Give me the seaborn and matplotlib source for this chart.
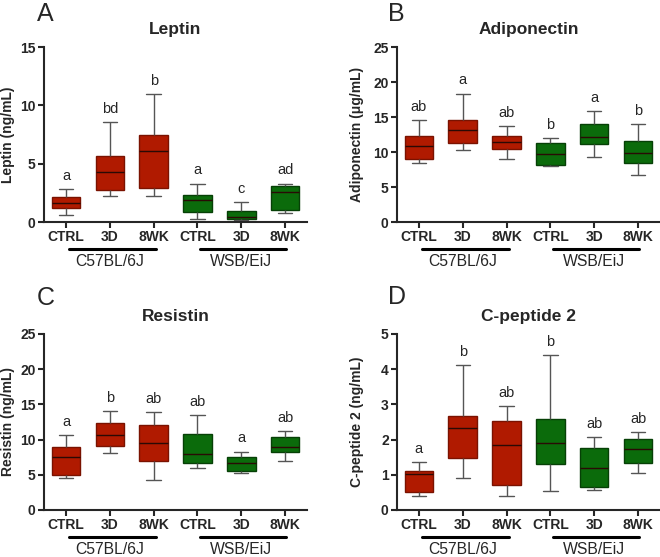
# Boxplots de adipocinas em 4 painéis
import pandas as pd
import matplotlib.pyplot as plt
import seaborn as sns

sns.set_style("ticks")
plt.rcParams['font.family'] = ['Liberation Sans', 'DejaVu Sans']

conditions = ['CTRL', '3D', '8WK']
strains = ['C57BL/6J', 'WSB/EiJ']
groups = ['C57 CTRL', 'C57 3D', 'C57 8WK', 'WSB CTRL', 'WSB 3D', 'WSB 8WK']
group_colors = ['#B01A00', '#B01A00', '#B01A00', '#0B6B0B', '#0B6B0B', '#0B6B0B']

# cinco números por grupo: min, q1, mediana, q3, max
leptin = [[0.6, 1.2, 1.65, 2.15, 2.85],
          [2.2, 2.76, 4.27, 5.66, 8.6],
          [2.2, 2.9, 6.12, 7.46, 11.0],
          [0.23, 0.85, 1.85, 2.28, 3.3],
          [0.14, 0.28, 0.4, 0.91, 1.74],
          [0.77, 1.05, 2.56, 3.05, 3.3]]
adiponectin = [[8.4, 9.0, 10.86, 12.35, 14.6],
               [10.35, 11.3, 13.1, 14.6, 18.35],
               [9.0, 10.45, 11.5, 12.25, 13.7],
               [7.95, 8.15, 9.7, 11.35, 12.0],
               [9.35, 11.1, 12.2, 13.95, 15.9],
               [6.65, 8.4, 9.9, 11.6, 14.05]]
resistin = [[4.5, 5.0, 7.5, 9.0, 10.6],
            [8.1, 9.1, 10.6, 12.4, 14.1],
            [4.2, 7.0, 9.5, 12.1, 13.9],
            [6.0, 6.7, 8.0, 10.8, 13.5],
            [5.2, 5.5, 6.7, 7.5, 8.3],
            [6.9, 8.3, 9.0, 10.4, 11.2]]
cpeptide = [[0.4, 0.51, 1.02, 1.1, 1.36],
            [0.9, 1.47, 2.32, 2.68, 4.12],
            [0.4, 0.7, 1.84, 2.52, 2.95],
            [0.53, 1.3, 1.9, 2.58, 4.4],
            [0.57, 0.65, 1.19, 1.77, 2.07],
            [1.04, 1.33, 1.73, 2.02, 2.22]]

leptin_letters = ['a', 'bd', 'b', 'a', 'c', 'ad']
adiponectin_letters = ['ab', 'a', 'ab', 'b', 'a', 'b']
resistin_letters = ['a', 'b', 'ab', 'ab', 'a', 'ab']
cpeptide_letters = ['a', 'b', 'ab', 'b', 'ab', 'ab']

panels = [
    ('A', 'Leptin', 'Leptin (ng/mL)', leptin, leptin_letters, 15, 5),
    ('B', 'Adiponectin', 'Adiponectin (\u03bcg/mL)', adiponectin, adiponectin_letters, 25, 5),
    ('C', 'Resistin', 'Resistin (ng/mL)', resistin, resistin_letters, 25, 5),
    ('D', 'C-peptide 2', 'C-peptide 2 (ng/mL)', cpeptide, cpeptide_letters, 5, 1),
]

fig = plt.figure(figsize=(6.6, 5.57), dpi=100)
axes_rect = [[0.0667, 0.6014, 0.3985, 0.3142],
             [0.6015, 0.6014, 0.3985, 0.3142],
             [0.0667, 0.0844, 0.3985, 0.316],
             [0.6015, 0.0844, 0.3985, 0.316]]
letter_pos = [(0.068, 0.975), (0.601, 0.975), (0.070, 0.465), (0.601, 0.467)]
ylabel_x = [-0.112, -0.125, -0.112, -0.125]

palette = dict(zip(groups, group_colors))
dark = {'#B01A00': '#7A1200', '#0B6B0B': '#064006'}

for k, (letra, titulo, ylabel, valores, letras, ymax, passo) in enumerate(panels):
    ax = fig.add_axes(axes_rect[k])
    df = pd.DataFrame({
        'grupo': [g for g, v in zip(groups, valores) for _ in v],
        'valor': [x for v in valores for x in v],
    })
    sns.boxplot(data=df, x='grupo', y='valor', hue='grupo', order=groups,
                hue_order=groups, palette=palette, legend=False, whis=(0, 100),
                width=0.65, saturation=1, ax=ax, linewidth=1,
                whiskerprops={'color': '#555555', 'linewidth': 1},
                capprops={'color': '#555555', 'linewidth': 1},
                medianprops={'color': '#2A0A05', 'linewidth': 1})
    # bordas mais escuras que o preenchimento
    for patch, c in zip(ax.patches, group_colors):
        patch.set_edgecolor(dark[c])

    ax.set_xlim(-0.5, 5.5)
    ax.set_ylim(0, ymax)
    ax.set_yticks(range(0, ymax + 1, passo))
    ax.set_xticks(range(6))
    ax.set_xticklabels(conditions * 2, fontweight='bold', fontsize=10)
    for t in ax.get_yticklabels():
        t.set_fontweight('bold')
        t.set_fontsize(10)
    ax.set_xlabel('')
    ax.set_ylabel(ylabel, fontweight='bold', fontsize=10)
    ax.yaxis.set_label_coords(ylabel_x[k], 0.5)
    sns.despine(ax=ax)
    for s in ['left', 'bottom']:
        ax.spines[s].set_linewidth(1.5)
    ax.tick_params(width=1.5, length=4, pad=2)

    ax.text(0.5, 1.10, titulo, transform=ax.transAxes, ha='center', va='center',
            fontweight='bold', fontsize=12.5)

    # letras de significância acima dos bigodes
    for i, v in enumerate(valores):
        ax.text(i, max(v) + 0.035 * ymax, letras[i], ha='center', va='bottom', fontsize=10.5)

    # linhas e rótulos das linhagens
    for (x0, x1), nome, xc in zip([(0.07, 2.05), (3.05, 5.03)], strains, [1, 4]):
        ax.plot([x0, x1], [-0.153, -0.153], color='black', lw=2.2,
                transform=ax.get_xaxis_transform(), clip_on=False)
        ax.text(xc, -0.225, nome, transform=ax.get_xaxis_transform(),
                ha='center', va='center', fontsize=11.3)

    fig.text(letter_pos[k][0], letter_pos[k][1], letra, ha='center', va='center', fontsize=18)

fig.savefig('out.png', dpi=100)
